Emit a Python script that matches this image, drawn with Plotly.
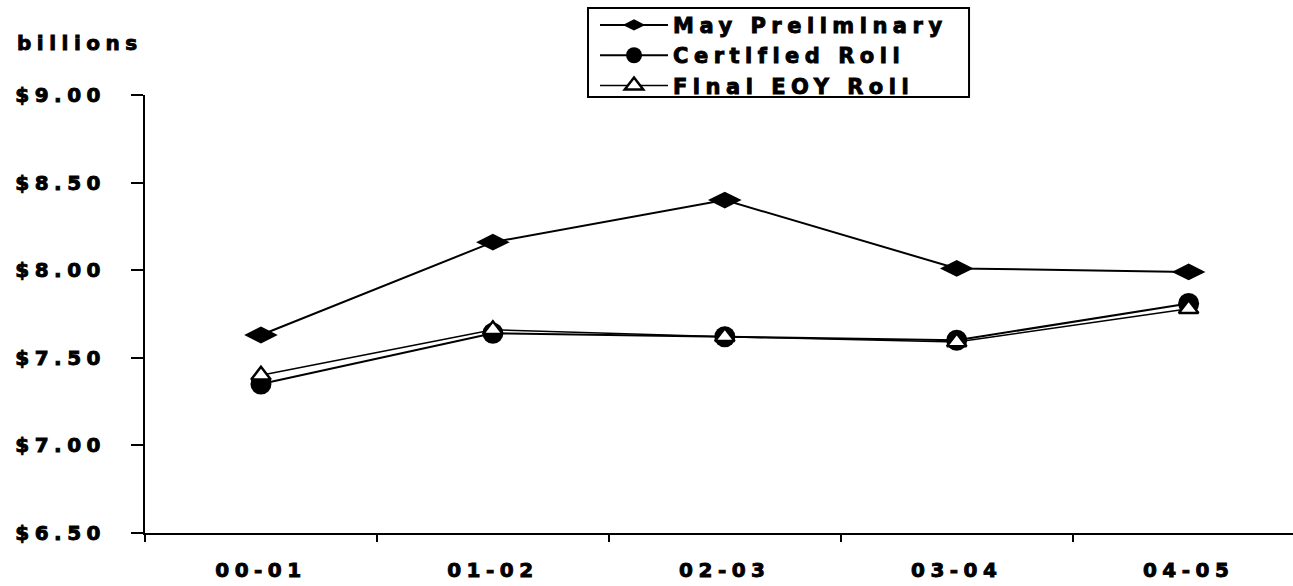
import plotly.graph_objects as go

years = ["00-01", "01-02", "02-03", "03-04", "04-05"]
may_prelim = [7.63, 8.16, 8.40, 8.01, 7.99]
certified = [7.35, 7.64, 7.62, 7.60, 7.81]
final_eoy = [7.40, 7.66, 7.62, 7.59, 7.78]
y_ticks = [6.5, 7.0, 7.5, 8.0, 8.5, 9.0]
y_tick_text = ["$6.50", "$7.00", "$7.50", "$8.00", "$8.50", "$9.00"]

FONT = "DejaVu Sans"

fig = go.Figure()
fig.add_trace(go.Scatter(
    x=years, y=may_prelim, name="May Preliminary", mode="lines+markers",
    line=dict(color="black", width=2),
    marker=dict(symbol="diamond-wide", size=24, color="black"),
))
fig.add_trace(go.Scatter(
    x=years, y=certified, name="Certified Roll", mode="lines+markers",
    line=dict(color="black", width=2),
    marker=dict(symbol="circle", size=21, color="black"),
))
fig.add_trace(go.Scatter(
    x=years, y=final_eoy, name="Final EOY Roll", mode="lines+markers",
    line=dict(color="black", width=1.5),
    marker=dict(symbol="triangle-up", size=17, color="white",
                line=dict(color="black", width=2.5)),
))

fig.update_layout(
    width=1293, height=586,
    margin=dict(l=145, r=0, t=95, b=53),
    plot_bgcolor="white", paper_bgcolor="white",
    font=dict(family=FONT, size=20, color="black", weight="bold"),
    showlegend=True,
    legend=dict(
        x=0.392, y=1.206, xanchor="left", yanchor="top",
        bgcolor="rgba(0,0,0,0)", borderwidth=0,
        font=dict(family=FONT, size=21, color="black", weight="bold"),
        tracegroupgap=0, itemwidth=68,
    ),
    shapes=[dict(
        type="rect", xref="paper", yref="paper",
        x0=0.3859, x1=0.7178, y0=0.9954, y1=1.1986,
        line=dict(color="black", width=2), fillcolor="rgba(0,0,0,0)",
    )],
    annotations=[dict(
        text="billions", xref="paper", yref="paper",
        x=-0.094, y=1.119, xanchor="left", yanchor="middle",
        showarrow=False, font=dict(family=FONT, size=20, color="black", weight="bold"),
    )],
)

fig.update_xaxes(
    type="category", range=[-0.5, 4.45],
    showline=True, linecolor="black", linewidth=2,
    ticks="outside", tickson="boundaries", ticklen=7, tickwidth=2, tickcolor="black",
    showgrid=False, zeroline=False, ticklabelstandoff=18,
)
fig.update_yaxes(
    range=[6.5, 9.0], tickvals=y_ticks, ticktext=y_tick_text,
    showline=True, linecolor="black", linewidth=2,
    ticks="outside", ticklen=12, tickwidth=2, tickcolor="black",
    showgrid=False, zeroline=False, ticklabelstandoff=21,
)

post = """
var gd = document.getElementById('{plot_id}');
gd.querySelectorAll('text').forEach(function(t){
  t.style.letterSpacing = '5.5px';
  t.style.stroke = 'black';
  t.style.strokeWidth = '0.9px';
});
gd.querySelectorAll('.legend [clip-path]').forEach(function(e){ e.removeAttribute('clip-path'); });
gd.querySelectorAll('.legend').forEach(function(e){ e.removeAttribute('clip-path'); });
"""
fig.write_html("out.html", post_script=post)
